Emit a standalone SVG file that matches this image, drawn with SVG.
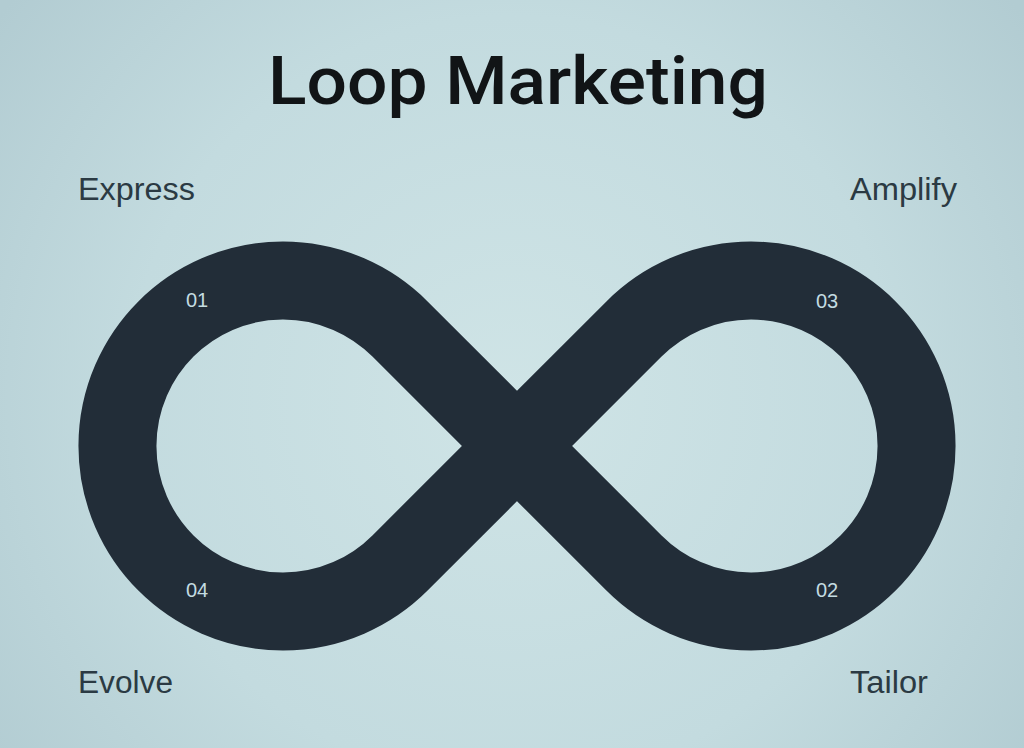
<svg xmlns="http://www.w3.org/2000/svg" width="1024" height="748" viewBox="0 0 1024 748">
<defs>
<radialGradient id="bg" cx="512" cy="400" r="640" gradientUnits="userSpaceOnUse">
<stop offset="0" stop-color="#cfe4e6"/>
<stop offset="0.6" stop-color="#c3dbdf"/>
<stop offset="1" stop-color="#b2ccd2"/>
</radialGradient>
<style>
.title{font-family:Roboto,"Liberation Sans",Arial,sans-serif;font-weight:500;font-size:67px;fill:#111416}
.lbl{font-family:"Liberation Sans",Arial,sans-serif;font-size:31px;fill:#2b3a43}
.num{font-family:"Liberation Sans",Arial,sans-serif;font-size:20px;fill:#c4dce1}
</style>
</defs>
<rect width="1024" height="748" fill="url(#bg)"/>
<text class="title" x="268" y="104" textLength="500" lengthAdjust="spacingAndGlyphs">Loop Marketing</text>
<g id="loop">
<path d="M517 446 L400 329 A165.5 165.5 0 1 0 400 563 L517 446 L634 329 A165.5 165.5 0 1 1 634 563 Z" fill="none" stroke="#222d38" stroke-width="78" stroke-linejoin="round"/>
</g>
<g id="express"><text class="lbl" x="78" y="200" textLength="117" lengthAdjust="spacingAndGlyphs">Express</text><text class="num" x="186" y="307">01</text></g>
<g id="tailor"><text class="lbl" x="850" y="693" textLength="78" lengthAdjust="spacingAndGlyphs">Tailor</text><text class="num" x="816" y="597">02</text></g>
<g id="amplify"><text class="lbl" x="850" y="200" textLength="107" lengthAdjust="spacingAndGlyphs">Amplify</text><text class="num" x="816" y="308">03</text></g>
<g id="evolve"><text class="lbl" x="78" y="693" textLength="95" lengthAdjust="spacingAndGlyphs">Evolve</text><text class="num" x="186" y="597">04</text></g>
<g id="connectors"></g>
</svg>
